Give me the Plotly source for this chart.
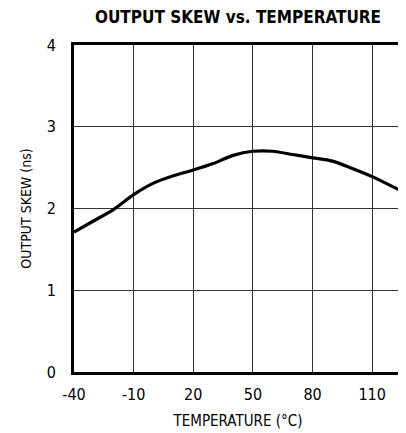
import plotly.graph_objects as go

temperature = [-40, -30, -20, -10, 0, 10, 20, 30, 40, 50, 60, 70, 80, 90, 100, 110, 125]
skew_ns = [1.71, 1.85, 1.99, 2.17, 2.31, 2.40, 2.47, 2.55, 2.65, 2.70, 2.70, 2.66, 2.62, 2.58, 2.49, 2.39, 2.21]

x_ticks = [-40, -10, 20, 50, 80, 110]
y_ticks = [0, 1, 2, 3, 4]

FONT = "DejaVu Sans Condensed, sans-serif"

# page body has an 8px default margin, so the figure is sized to fit
W, H = 398, 425

fig = go.Figure()
fig.add_trace(go.Scatter(
    x=temperature, y=skew_ns, mode="lines",
    line=dict(color="black", width=3.2, shape="spline", smoothing=0.8),
    showlegend=False, hoverinfo="skip",
))

fig.update_layout(
    width=W, height=H,
    margin=dict(l=66, r=4, t=37, b=61, autoexpand=False),
    paper_bgcolor="white", plot_bgcolor="white",
    title=dict(
        text="<b>OUTPUT SKEW vs. TEMPERATURE</b>",
        xref="paper", x=0.5, xanchor="center",
        yref="container", y=1 - 9 / H, yanchor="middle",
        font=dict(family=FONT, size=17, color="black"),
    ),
    font=dict(family=FONT, size=15, color="black"),
)

fig.update_xaxes(
    range=[-40, 125], tickvals=x_ticks, ticktext=[str(v) for v in x_ticks],
    showgrid=True, gridcolor="#333333", gridwidth=1,
    showline=True, linecolor="black", linewidth=3, mirror=True,
    ticks="", ticklen=0, zeroline=False, automargin=False,
    ticklabelstandoff=6,
    title=dict(text="TEMPERATURE (°C)", font=dict(family=FONT, size=15), standoff=13),
    tickfont=dict(family=FONT, size=16),
)
fig.update_yaxes(
    range=[0, 4], tickvals=y_ticks,
    showgrid=True, gridcolor="#333333", gridwidth=1,
    showline=True, linecolor="black", linewidth=3, mirror=True,
    ticks="", ticklen=0, zeroline=False, automargin=False,
    ticklabelstandoff=12,
    title=dict(text="OUTPUT SKEW (ns)", font=dict(family=FONT, size=14), standoff=12),
    tickfont=dict(family=FONT, size=16),
)

fig.write_html("out.html")
